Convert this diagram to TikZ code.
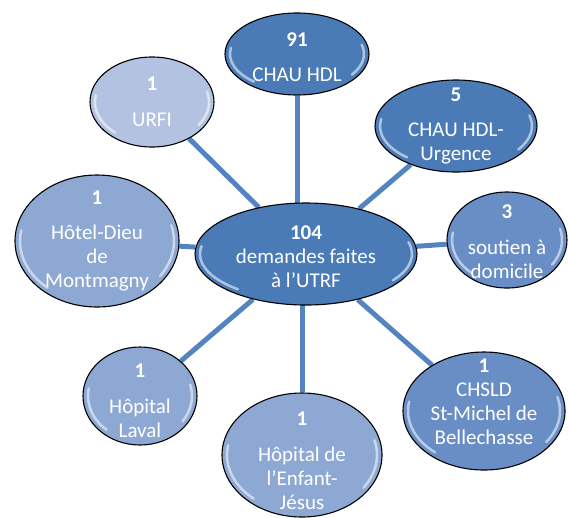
\documentclass[tikz,border=0pt]{standalone}
\usepackage{fontspec}
\setmainfont{Carlito}
\usetikzlibrary{shapes.geometric}
\definecolor{dkblue}{RGB}{74,123,183}
\definecolor{mdblue}{RGB}{104,142,197}
\definecolor{ltblue}{RGB}{141,168,210}
\definecolor{xlblue}{RGB}{178,194,224}
\definecolor{linkblue}{RGB}{84,132,192}
\pgfdeclarelayer{background}
\pgfsetlayers{background,main}
\tikzset{
  bubble/.style={ellipse, draw=black, line width=1.1pt, inner sep=0pt},
  txt/.style={text=white, align=center, inner sep=0pt,
    font=\fontsize{21}{24}\selectfont},
  link/.style={draw=linkblue, line width=5pt},
  glossline/.style={draw=white, opacity=0.55, line width=2.5pt, line cap=round}
}
\newcommand\gloss[3]{%
  \pgfmathsetmacro\grx{#2-5}\pgfmathsetmacro\gry{#3-5}%
  \draw[glossline] (#1.center) ++({\grx*cos(130)},{\gry*sin(130)})
    arc[start angle=130,end angle=190,x radius=\grx,y radius=\gry];
  \draw[glossline] (#1.center) ++({\grx*cos(-15)},{\gry*sin(-15)})
    arc[start angle=-15,end angle=35,x radius=\grx,y radius=\gry];
}
\begin{document}
\begin{tikzpicture}[x=1pt,y=-1pt]
\useasboundingbox (0,0) rectangle (569,517);

% bubbles
\node[bubble, fill=dkblue, minimum width=222pt, minimum height=102pt] (c) at (306,254) {};
\node[bubble, fill=dkblue, minimum width=144pt, minimum height=82pt] (t) at (297,54) {};
\node[bubble, fill=dkblue, minimum width=162pt, minimum height=92pt] (urg) at (456,126) {};
\node[bubble, fill=mdblue, minimum width=120pt, minimum height=96pt] (sd) at (507,240) {};
\node[bubble, fill=mdblue, minimum width=162pt, minimum height=118pt] (ch) at (484,411) {};
\node[bubble, fill=ltblue, minimum width=160pt, minimum height=124pt] (ej) at (302,455) {};
\node[bubble, fill=ltblue, minimum width=114pt, minimum height=98pt] (lv) at (140,396) {};
\node[bubble, fill=ltblue, minimum width=164pt, minimum height=132pt] (hd) at (97,241) {};
\node[bubble, fill=xlblue, minimum width=124pt, minimum height=90pt] (u) at (152,102) {};

% gloss highlights
\gloss{c}{111}{51}
\gloss{t}{72}{41}
\gloss{urg}{81}{46}
\gloss{sd}{60}{48}
\gloss{ch}{81}{59}
\gloss{ej}{80}{62}
\gloss{lv}{57}{49}
\gloss{hd}{82}{66}
\gloss{u}{62}{45}

% texts
\node[txt, yshift=-3pt] (c-t) at (c) {\textbf{104}\\demandes faites\\à l’UTRF};
\node[txt, yshift=-3pt] (t-t) at (t) {\textbf{91}\\[11pt]CHAU HDL};
\node[txt] (urg-t) at (urg) {\textbf{5}\\[11pt]CHAU HDL-\\Urgence};
\node[txt, yshift=-2pt] (sd-t) at (sd) {\textbf{3}\\[12pt]soutien à\\domicile};
\node[txt, yshift=9pt] (ch-t) at (ch) {\textbf{1}\\CHSLD\\St-Michel de\\Bellechasse};
\node[txt, yshift=-6pt] (ej-t) at (ej) {\textbf{1}\\[12pt]Hôpital de\\l’Enfant-\\Jésus};
\node[txt, yshift=-5pt] (lv-t) at (lv) {\textbf{1}\\[12pt]Hôpital\\Laval};
\node[txt] (hd-t) at (hd) {\textbf{1}\\[11pt]Hôtel-Dieu\\de\\Montmagny};
\node[txt] (u-t) at (u) {\textbf{1}\\[12pt]URFI};

% connectors
\begin{pgfonlayer}{background}
\draw[link] (t) -- (t |- c);
\draw[link] (ej) -- (ej |- c);
\draw[link] (c) -- (urg);
\draw[link] (c) -- (sd);
\draw[link] (c) -- (ch);
\draw[link] (c) -- (lv);
\draw[link] (c) -- (hd);
\draw[link] (c) -- (u);
\end{pgfonlayer}
\end{tikzpicture}
\end{document}
